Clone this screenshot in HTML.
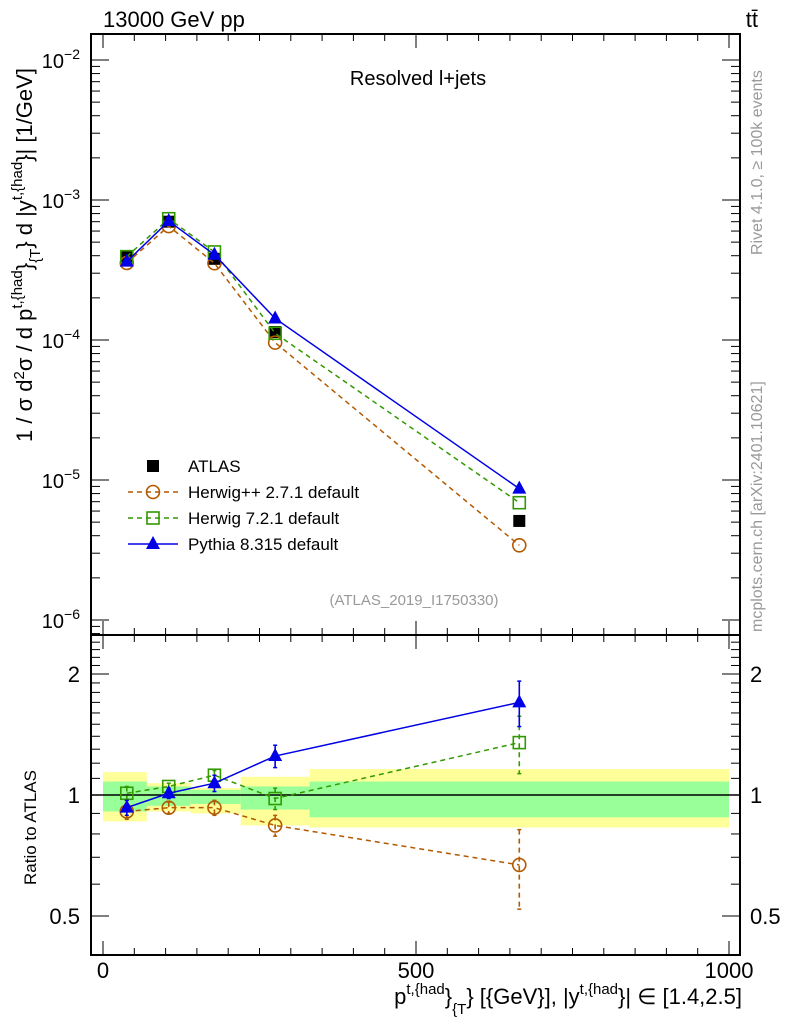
<!DOCTYPE html>
<html><head><meta charset="utf-8"><style>
body{margin:0;background:#fff;}
svg text{font-family:"Liberation Sans",sans-serif;}
</style></head><body>
<svg id="c" width="786" height="1024" xmlns="http://www.w3.org/2000/svg"></svg>
<script>
const xCenters=[38,105,178,275,665];
const atlas=[3.9e-4,7.0e-4,3.8e-4,1.14e-4,5.1e-6];
const herwigppRatio=[0.91,0.93,0.93,0.84,0.67];
const herwigppErr=[0.04,0.03,0.04,0.05,0.15];
const herwig7Ratio=[1.01,1.05,1.12,0.98,1.35];
const herwig7Err=[0.04,0.02,0.03,0.06,0.22];
const pythiaRatio=[0.93,1.01,1.07,1.25,1.70];
const pythiaErr=[0.04,0.03,0.05,0.08,0.22];
const binEdges=[0,70,140,220,330,1000];
const yellowHi=[1.14,1.07,1.04,1.11,1.16];
const yellowLo=[0.86,0.91,0.90,0.84,0.83];
const greenHi=[1.08,1.05,1.03,1.05,1.08];
const greenLo=[0.91,0.94,0.95,0.92,0.88];
const xTicks=[0,500,1000];
const mainTicks=[-2,-3,-4,-5,-6];
const ratioTicks=[0.5,1,2];

const S=document.getElementById('c');const NS='http://www.w3.org/2000/svg';
const L=91,R=740,T=34,M=635,B=955;
const X=v=>103+v*0.626;
const Ym=v=>60+(-2-Math.log10(v))*140;
const Yr=v=>795-121*Math.log2(v);
function mk(tag,a,p){const e=document.createElementNS(NS,tag);for(const k in a)e.setAttribute(k,a[k]);(p||S).appendChild(e);return e;}
for(let i=0;i<5;i++){
 const b1=mk('rect',{x:X(binEdges[i]),y:Yr(yellowHi[i]),width:X(binEdges[i+1])-X(binEdges[i]),height:Yr(yellowLo[i])-Yr(yellowHi[i]),fill:'#ffff99'});
 
 
 const b2=mk('rect',{x:X(binEdges[i]),y:Yr(greenHi[i]),width:X(binEdges[i+1])-X(binEdges[i]),height:Yr(greenLo[i])-Yr(greenHi[i]),fill:'#99ff99'});
 
 
}
const one=mk('line',{x1:L,x2:R,y1:Yr(1),y2:Yr(1),stroke:'#000','stroke-width':1.5});


const f1=mk('rect',{x:L,y:T,width:R-L,height:M-T,fill:'none',stroke:'#000','stroke-width':2});


const f2=mk('rect',{x:L,y:M,width:R-L,height:B-M,fill:'none',stroke:'#000','stroke-width':2});


for(let v=0;v<=1000;v+=50){const big=v%500==0;const h=big?14:7;
 for(const [y0,d] of [[T,1],[M,-1],[M,1],[B,-1]]){mk('line',{x1:X(v),x2:X(v),y1:y0,y2:y0+d*h,stroke:'#000','stroke-width':1});}}
xTicks.forEach(v=>{const t=mk('text',{x:X(v),y:978,'font-size':22,'text-anchor':'middle'});t.textContent=v;
 
 });
for(let d=-6;d<=-2;d++){for(let m=1;m<10;m++){const v=m*Math.pow(10,d);const y=Ym(v);if(y<T||y>M)continue;const h=m==1?18:9;
 mk('line',{x1:L,x2:L+h,y1:y,y2:y,stroke:'#000'});mk('line',{x1:R,x2:R-h,y1:y,y2:y,stroke:'#000'});}}
for(let m=2;m<10;m++){const y=Ym(m*1e-7);if(y<=M&&y>=T){mk('line',{x1:L,x2:L+9,y1:y,y2:y,stroke:'#000'});}}
mainTicks.forEach(d=>{const t=mk('text',{x:80,y:Ym(Math.pow(10,d))+8,'font-size':20,'text-anchor':'end'});
 t.innerHTML='10<tspan dy="-9" font-size="14">'+(d<0?'−':'')+Math.abs(d)+'</tspan>';
 
 });
const rt=[0.4,0.5,0.6,0.7,0.8,0.9,1,1.1,1.2,1.3,1.4,1.5,1.6,1.7,1.8,1.9,2,2.1,2.2,2.3,2.4,2.5];
rt.forEach(v=>{const y=Yr(v);if(y<M||y>B)return;const big=[0.5,1,2].includes(v);const h=big?18:9;
 mk('line',{x1:L,x2:L+h,y1:y,y2:y,stroke:'#000'});mk('line',{x1:R,x2:R-h,y1:y,y2:y,stroke:'#000'});});
ratioTicks.forEach(v=>{const t=mk('text',{x:80,y:Yr(v)+8,'font-size':22,'text-anchor':'end'});t.textContent=v;
 
 
 const t2=mk('text',{x:750,y:Yr(v)+8,'font-size':22});t2.textContent=v;
 
 });
function marker(kind,x,y,col,g){
 if(kind=='sq')mk('rect',{x:x-6,y:y-6,width:12,height:12,fill:'#000'},g);
 if(kind=='osq')mk('rect',{x:x-6,y:y-6,width:12,height:12,fill:'none',stroke:col,'stroke-width':1.6},g);
 if(kind=='oc')mk('circle',{cx:x,cy:y,r:6.5,fill:'none',stroke:col,'stroke-width':1.6},g);
 if(kind=='tri')mk('polygon',{points:`${x},${y-8} ${x-7},${y+5} ${x+7},${y+5}`,fill:col},g);
}
const series=[
 {name:'herwigpp',r:herwigppRatio,e:herwigppErr,col:'#b35900',dash:'5,4',m:'oc'},
 {name:'herwig7',r:herwig7Ratio,e:herwig7Err,col:'#339900',dash:'5,4',m:'osq'},
 {name:'pythia',r:pythiaRatio,e:pythiaErr,col:'#0000e6',dash:'',m:'tri'}];
const ga=mk('g',{});
xCenters.forEach((x,i)=>marker('sq',X(x),Ym(atlas[i]),'#000',ga));
series.forEach(s=>{
 const g=mk('g',{});
 
 
 const pm=xCenters.map((x,i)=>X(x)+','+Ym(s.r[i]*atlas[i])).join(' ');
 mk('polyline',{points:pm,fill:'none',stroke:s.col,'stroke-width':1.5,'stroke-dasharray':s.dash},g);
 xCenters.forEach((x,i)=>marker(s.m,X(x),Ym(s.r[i]*atlas[i]),s.col,g));
 const pr=xCenters.map((x,i)=>X(x)+','+Yr(s.r[i])).join(' ');
 mk('polyline',{points:pr,fill:'none',stroke:s.col,'stroke-width':1.5,'stroke-dasharray':s.dash},g);
 xCenters.forEach((x,i)=>{const y1=Yr(s.r[i]+s.e[i]),y2=Yr(s.r[i]-s.e[i]);
  mk('line',{x1:X(x),x2:X(x),y1:y1,y2:y2,stroke:s.col,'stroke-width':1.6,'stroke-dasharray':s.dash},g);
  mk('line',{x1:X(x)-2,x2:X(x)+2,y1:y1,y2:y1,stroke:s.col,'stroke-width':1.5},g);
  mk('line',{x1:X(x)-2,x2:X(x)+2,y1:y2,y2:y2,stroke:s.col,'stroke-width':1.5},g);
  marker(s.m,X(x),Yr(s.r[i]),s.col,g);});
});
const lg=mk('g',{});
const leg=[['sq','#000','','ATLAS'],['oc','#b35900','5,4','Herwig++ 2.7.1 default'],['osq','#339900','5,4','Herwig 7.2.1 default'],['tri','#0000e6','','Pythia 8.315 default']];
leg.forEach((l,i)=>{const y=466+i*26;
 if(i>0)mk('line',{x1:128,x2:178,y1:y,y2:y,stroke:l[1],'stroke-width':1.5,'stroke-dasharray':l[2]},lg);
 marker(l[0],153,y,l[1],lg);
 const t=mk('text',{x:188,y:y+6,'font-size':17},lg);t.textContent=l[3];});
function txt(s,a,name){const t=mk('text',a);t.innerHTML=s;return t;}
txt('13000 GeV pp',{x:103,y:27,'font-size':22},'energy-label');
txt('tt̄',{x:758,y:27,'font-size':22,'text-anchor':'end'},'process-label');
txt('Resolved l+jets',{x:418,y:85,'font-size':20,'text-anchor':'middle'},'plot-title');
txt('(ATLAS_2019_I1750330)',{x:414,y:605,'font-size':15,fill:'#999','text-anchor':'middle'},'analysis-id');
txt('Rivet 4.1.0, ≥ 100k events',{x:762,y:255,'font-size':16,fill:'#999',transform:'rotate(-90 762 255)'},'rivet-label');
txt('mcplots.cern.ch [arXiv:2401.10621]',{x:762,y:632,'font-size':16,fill:'#999',transform:'rotate(-90 762 632)'},'mcplots-label');
txt('1 / σ d<tspan dy="-8" font-size="15">2</tspan><tspan dy="8">σ / d p</tspan><tspan dy="-10" font-size="15">t,{had</tspan><tspan dy="10">}</tspan><tspan dy="8" font-size="15">{T</tspan><tspan dy="-8">} d |y</tspan><tspan dy="-10" font-size="15">t,{had</tspan><tspan dy="10">}| [1/GeV]</tspan>',{x:32,y:442,'font-size':22,transform:'rotate(-90 32 442)'},'y-axis-title');
txt('Ratio to ATLAS',{x:36,y:885,'font-size':17,transform:'rotate(-90 36 885)'},'ratio-axis-title');
txt('p<tspan dy="-10" font-size="15">t,{had</tspan><tspan dy="10">}</tspan><tspan dy="10" font-size="15">{T</tspan><tspan dy="-10">} [{GeV}], |y</tspan><tspan dy="-10" font-size="15">t,{had</tspan><tspan dy="10">}| ∈ [1.4,2.5]</tspan>',{x:742,y:1004,'font-size':22,'text-anchor':'end'},'x-axis-title');
</script>
</body></html>
